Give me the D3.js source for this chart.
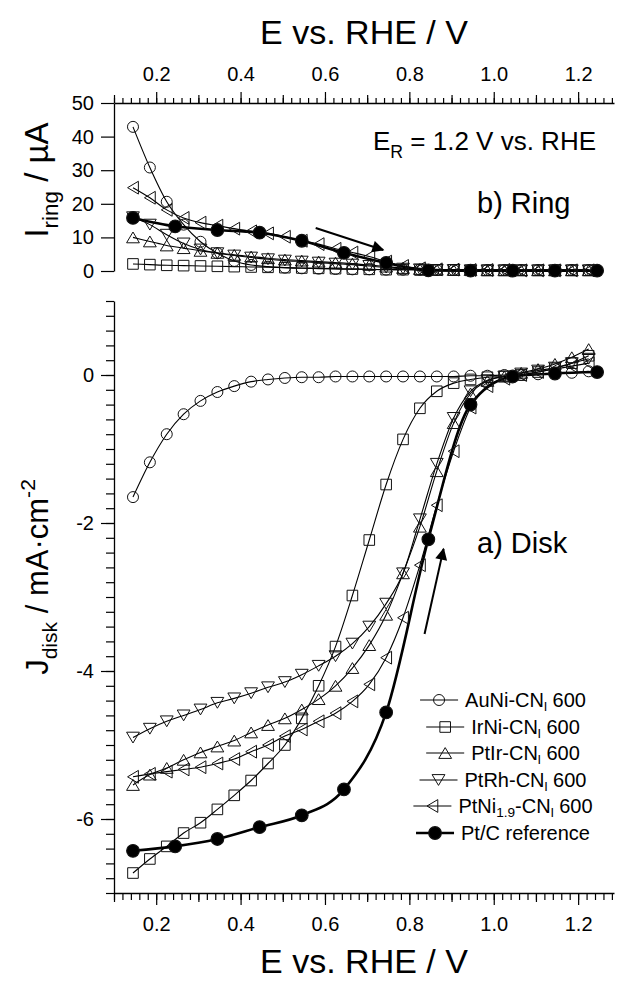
<!DOCTYPE html>
<html>
<head>
<meta charset="utf-8">
<script src="https://cdn.jsdelivr.net/npm/d3@7"></script>
<style>
  body { margin: 0; background: #fff; }
  svg { display: block; font-family: "Liberation Sans", Arial, sans-serif; }
</style>
</head>
<body>
<svg id="chart" width="620" height="981"></svg>
<script>
// potentials (V vs RHE) of the open-symbol series and of the Pt/C reference
var E = [0.145,0.185,0.225,0.265,0.305,0.345,0.385,0.425,0.465,0.505,0.545,0.585,0.625,0.665,
         0.705,0.745,0.785,0.825,0.865,0.905,0.945,0.985,1.025,1.065,1.105,1.145,1.185,1.225];
var E_ptc = [0.145,0.245,0.345,0.445,0.545,0.645,0.745,0.845,0.945,1.045,1.145,1.245];

// disk current density, mA cm-2
var auniDisk = [-1.65,-1.18,-0.80,-0.53,-0.35,-0.23,-0.15,-0.09,-0.06,-0.04,-0.03,-0.03,-0.02,-0.02,
                -0.02,-0.02,-0.02,-0.02,-0.02,-0.02,-0.01,-0.01,0.0,0.0,0.01,0.02,0.03,0.05];
var irniDisk = [-6.73,-6.54,-6.37,-6.19,-6.05,-5.87,-5.68,-5.48,-5.25,-5.00,-4.64,-4.20,-3.67,-2.98,
                -2.23,-1.48,-0.87,-0.45,-0.22,-0.11,-0.06,-0.03,-0.02,0.0,0.04,0.09,0.16,0.26];
var ptirDisk = [-5.54,-5.40,-5.31,-5.20,-5.10,-5.02,-4.94,-4.83,-4.73,-4.64,-4.52,-4.38,-4.20,-3.96,
                -3.65,-3.24,-2.68,-2.05,-1.30,-0.65,-0.25,-0.08,-0.02,0.03,0.08,0.15,0.24,0.35];
var ptrhDisk = [-4.90,-4.78,-4.68,-4.60,-4.52,-4.43,-4.37,-4.30,-4.22,-4.15,-4.05,-3.93,-3.80,-3.63,
                -3.40,-3.09,-2.68,-1.95,-1.20,-0.58,-0.22,-0.07,-0.02,0.02,0.06,0.10,0.16,0.22];
var ptniDisk = [-5.43,-5.39,-5.36,-5.33,-5.30,-5.25,-5.19,-5.09,-5.00,-4.88,-4.79,-4.68,-4.57,-4.41,
                -4.18,-3.82,-3.28,-2.57,-1.76,-1.03,-0.44,-0.15,-0.05,0.0,0.04,0.08,0.12,0.16];
var ptcDisk  = [-6.43,-6.37,-6.27,-6.11,-5.95,-5.60,-4.56,-2.22,-0.40,-0.02,0.02,0.04];

// ring current, uA
var auniRing = [42.9,30.8,20.6,13.8,8.7,5.3,3.0,1.8,1.3,1.0,0.8,0.7,0.6,0.5,
                0.5,0.4,0.4,0.4,0.3,0.3,0.3,0.3,0.3,0.3,0.3,0.3,0.3,0.3];
var irniRing = [2.1,1.9,1.7,1.6,1.5,1.4,1.3,1.2,1.1,1.0,0.9,0.8,0.7,0.6,
                0.5,0.4,0.4,0.3,0.3,0.3,0.2,0.2,0.2,0.2,0.2,0.2,0.2,0.2];
var ptirRing = [10.0,8.8,7.6,6.8,6.0,5.4,4.8,4.3,3.8,3.4,3.1,2.8,2.5,2.2,
                1.8,1.3,0.9,0.6,0.4,0.3,0.3,0.2,0.2,0.2,0.2,0.2,0.2,0.2];
var ptrhRing = [16.0,13.8,10.8,8.2,6.4,5.3,4.6,4.0,3.5,3.1,2.8,2.5,2.2,1.9,
                1.5,1.0,0.7,0.5,0.3,0.3,0.2,0.2,0.2,0.2,0.2,0.2,0.2,0.2];
var ptniRing = [24.8,21.8,18.2,15.8,14.4,13.5,12.6,11.8,11.2,10.2,9.0,8.0,6.6,5.5,
                4.3,2.8,1.5,0.8,0.5,0.4,0.3,0.3,0.3,0.2,0.2,0.2,0.2,0.2];
var ptcRing  = [15.8,13.3,12.2,11.4,9.0,5.4,2.4,0.2,0.1,0.1,0.1,0.1];

var xTicks = [0.2,0.4,0.6,0.8,1.0,1.2];
var ringTicks = [0,10,20,30,40,50];
var diskTicks = [-6,-4,-2,0];

var seriesNames = [
  [{t:"AuNi-CN"},{t:"l",sub:true},{t:" 600"}],
  [{t:"IrNi-CN"},{t:"l",sub:true},{t:" 600"}],
  [{t:"PtIr-CN"},{t:"l",sub:true},{t:" 600"}],
  [{t:"PtRh-CN"},{t:"l",sub:true},{t:" 600"}],
  [{t:"PtNi"},{t:"1.9",sub:true},{t:"-CN"},{t:"l",sub:true},{t:" 600"}],
  [{t:"Pt/C reference"}]
];
var symbols = ["circle","square","up","down","left","dot"];

// arrows (start, end) in data units
var ringArrow = [[0.578,12.8],[0.738,6.25]];
var diskArrow = [[0.836,-3.50],[0.881,-2.35]];

var series = [
  {E:E, disk:auniDisk, ring:auniRing},
  {E:E, disk:irniDisk, ring:irniRing},
  {E:E, disk:ptirDisk, ring:ptirRing},
  {E:E, disk:ptrhDisk, ring:ptrhRing},
  {E:E, disk:ptniDisk, ring:ptniRing},
  {E:E_ptc, disk:ptcDisk, ring:ptcRing}
];
series.forEach(function(s, i) { s.sym = symbols[i]; s.label = seriesNames[i]; });

var svg = d3.select("#chart");

var x = d3.scaleLinear().domain([0.1, 1.285]).range([114, 614]);
var yR = d3.scaleLinear().domain([0, 50]).range([271, 103]);
var yD = d3.scaleLinear().domain([-7, 1]).range([893, 301]);

function symPath(type) {
  var r = 5.5, s = 5.3, a = 6.4, h = 5.4;
  if (type === "circle" || type === "dot")
    return "M" + (-r) + ",0A" + r + "," + r + " 0 1,0 " + r + ",0A" + r + "," + r + " 0 1,0 " + (-r) + ",0Z";
  if (type === "square") return "M-" + s + ",-" + s + "H" + s + "V" + s + "H-" + s + "Z";
  if (type === "up") return "M0," + (-h) + "L" + a + "," + h + "L" + (-a) + "," + h + "Z";
  if (type === "down") return "M0," + h + "L" + a + "," + (-h) + "L" + (-a) + "," + (-h) + "Z";
  if (type === "left") return "M" + (-h) + ",0L" + h + "," + (-a) + "L" + h + "," + a + "Z";
}

function drawSymbol(g, type, px, py) {
  var dot = type === "dot";
  g.append("path")
    .attr("d", symPath(type))
    .attr("transform", "translate(" + px + "," + py + ")" + (dot ? " scale(1.15)" : ""))
    .attr("fill", dot ? "#000" : "none")
    .attr("stroke", "#111")
    .attr("stroke-width", 1);
}

function richText(t, parts, size, subShift) {
  var shift = 0;
  subShift = subShift || 0.3;
  parts.forEach(function(p) {
    var target = p.sub ? size * subShift : (p.sup ? -size * 0.42 : 0);
    t.append("tspan")
      .attr("dy", target - shift)
      .style("font-size", (p.sub || p.sup) ? (size * 0.68) + "px" : size + "px")
      .text(p.t);
    shift = target;
  });
}

// ---- axes ----
function styleAxis(g) {
  g.selectAll("path.domain").attr("stroke", "#000").attr("stroke-width", 1.3);
  g.selectAll(".tick line").attr("stroke", "#000").attr("stroke-width", 1.2);
  g.selectAll("text").attr("fill", "#000").style("font-size", "20px")
    .style("font-family", "'Liberation Sans', Arial, sans-serif");
}

var xMinor = d3.range(0.1, 1.2901, 0.02).map(function(v) { return +v.toFixed(2); });
var xMid = [0.1,0.3,0.5,0.7,0.9,1.1];

// top axis
svg.append("g").attr("transform", "translate(0,103)")
  .call(d3.axisTop(x).tickValues(xMinor).tickSize(5).tickSizeOuter(0).tickFormat(""))
  .call(styleAxis);
svg.append("g").attr("transform", "translate(0,103)")
  .call(d3.axisTop(x).tickValues(xMid).tickSize(8).tickSizeOuter(0).tickFormat(""))
  .call(styleAxis).select(".domain").remove();
svg.append("g").attr("transform", "translate(0,103)")
  .call(d3.axisTop(x).tickValues(xTicks).tickSize(11).tickSizeOuter(0).tickPadding(11).tickFormat(d3.format(".1f")))
  .call(styleAxis).select(".domain").remove();

// bottom axis
svg.append("g").attr("transform", "translate(0,893)")
  .call(d3.axisBottom(x).tickValues(xMinor).tickSize(7).tickSizeOuter(0).tickFormat(""))
  .call(styleAxis);
svg.append("g").attr("transform", "translate(0,893)")
  .call(d3.axisBottom(x).tickValues(xMid).tickSize(9).tickSizeOuter(0).tickFormat(""))
  .call(styleAxis).select(".domain").remove();
svg.append("g").attr("transform", "translate(0,893)")
  .call(d3.axisBottom(x).tickValues(xTicks).tickSize(12).tickSizeOuter(0).tickPadding(12).tickFormat(d3.format(".1f")))
  .call(styleAxis).select(".domain").remove();

// ring left axis
svg.append("g").attr("transform", "translate(114,0)")
  .call(d3.axisLeft(yR).tickValues(ringTicks).tickSize(13).tickSizeOuter(0).tickPadding(7))
  .call(styleAxis);

// disk left axis
var yMinor = d3.range(-7, 1.001, 0.2).map(function(v) { return +v.toFixed(1); });
svg.append("g").attr("transform", "translate(114,0)")
  .call(d3.axisLeft(yD).tickValues(yMinor).tickSize(8).tickSizeOuter(0).tickFormat(""))
  .call(styleAxis);
svg.append("g").attr("transform", "translate(114,0)")
  .call(d3.axisLeft(yD).tickValues(diskTicks).tickSize(13).tickSizeOuter(0).tickPadding(7)
    .tickFormat(function(d) { return String(d); }))
  .call(styleAxis).select(".domain").remove();

// axis titles
svg.append("text").attr("x", 364).attr("y", 44).attr("text-anchor", "middle")
  .style("font-size", "34px").text("E vs. RHE / V");
svg.append("text").attr("x", 364).attr("y", 973).attr("text-anchor", "middle")
  .style("font-size", "34px").text("E vs. RHE / V");

richText(svg.append("text").attr("text-anchor", "middle")
  .attr("transform", "translate(48,180) rotate(-90)"),
  [{t:"I"},{t:"ring",sub:true},{t:" / \u00b5A"}], 33);
richText(svg.append("text").attr("text-anchor", "middle")
  .attr("transform", "translate(48,577) rotate(-90)"),
  [{t:"J"},{t:"disk",sub:true},{t:" / mA\u00b7cm"},{t:"-2",sup:true}], 31);

// ---- data ----
function drawPanel(key, y) {
  var g = svg.append("g");
  series.forEach(function(s) {
    var pts = s.E.map(function(e, i) { return [e, s[key][i]]; });
    var line = d3.line().x(function(d) { return x(d[0]); }).y(function(d) { return y(d[1]); })
      .curve(d3.curveMonotoneX);
    g.append("path").attr("d", line(pts)).attr("fill", "none").attr("stroke", "#000")
      .attr("stroke-width", s.sym === "dot" ? 2.6 : 1.1);
  });
  series.forEach(function(s) {
    s.E.forEach(function(e, i) { drawSymbol(g, s.sym, x(e), y(s[key][i])); });
  });
}
drawPanel("ring", yR);
drawPanel("disk", yD);

// arrows
svg.append("defs").append("marker").attr("id", "head")
  .attr("viewBox", "0 0 10 10").attr("refX", 9).attr("refY", 5)
  .attr("markerWidth", 7).attr("markerHeight", 6).attr("markerUnits", "strokeWidth")
  .attr("orient", "auto")
  .append("path").attr("d", "M0,0L10,5L0,10Z").attr("fill", "#000");
[[ringArrow, yR], [diskArrow, yD]].forEach(function(a) {
  var p = a[0], y = a[1];
  svg.append("line")
    .attr("x1", x(p[0][0])).attr("y1", y(p[0][1]))
    .attr("x2", x(p[1][0])).attr("y2", y(p[1][1]))
    .attr("stroke", "#000").attr("stroke-width", 2)
    .attr("marker-end", "url(#head)");
});

// annotations
richText(svg.append("text").attr("x", 373).attr("y", 150),
  [{t:"E"},{t:"R",sub:true},{t:" = 1.2 V vs. RHE"}], 26);
svg.append("text").attr("x", 477).attr("y", 213).style("font-size", "29px").text("b) Ring");
svg.append("text").attr("x", 477).attr("y", 553).style("font-size", "29px").text("a) Disk");

// legend
var legY = [700, 727, 753, 780, 806, 833];
series.forEach(function(s, i) {
  var g = svg.append("g");
  var lw = s.sym === "dot" ? 2.6 : 1.1;
  g.append("line").attr("x1", 0).attr("x2", 38).attr("y1", 0).attr("y2", 0)
    .attr("stroke", "#000").attr("stroke-width", lw);
  drawSymbol(g, s.sym, 19, 0);
  var t = g.append("text").attr("x", 45).attr("y", 7);
  richText(t, s.label, 20, 0.22);
  var w = 45 + t.node().getComputedTextLength();
  g.attr("transform", "translate(" + (503 - w / 2) + "," + legY[i] + ")");
});
</script>
</body>
</html>
